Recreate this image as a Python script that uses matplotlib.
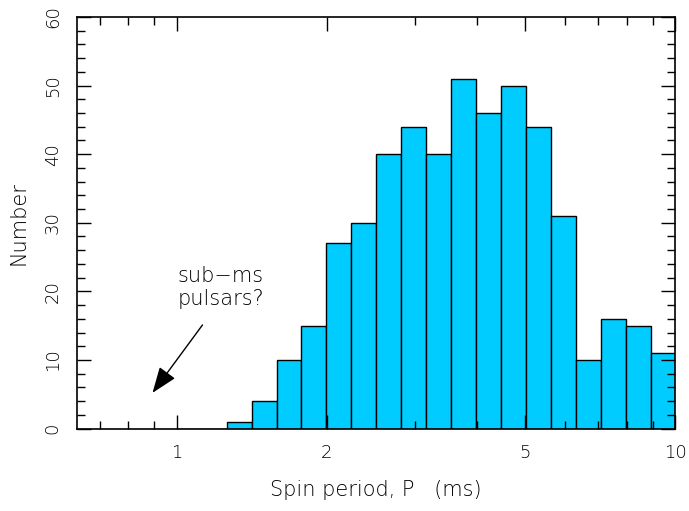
import matplotlib
matplotlib.use("Agg")
import matplotlib.pyplot as plt
import numpy as np
from matplotlib.ticker import FixedLocator, NullFormatter, FixedFormatter, MultipleLocator

# log10(P/ms) bin edges, 0.05 dex wide, from 1 ms to 10 ms
log_edges = [0.00, 0.05, 0.10, 0.15, 0.20, 0.25, 0.30, 0.35, 0.40, 0.45, 0.50,
             0.55, 0.60, 0.65, 0.70, 0.75, 0.80, 0.85, 0.90, 0.95, 1.00]
counts = [0, 0, 1, 4, 10, 15, 27, 30, 40, 44, 40, 51, 46, 50, 44, 31, 10, 16, 15, 11]

major_ticks = [1, 2, 5, 10]
major_labels = ["1", "2", "5", "10"]
minor_ticks = [0.7, 0.8, 0.9, 3, 4, 6, 7, 8, 9]

plt.rcParams['font.family'] = ['DejaVu Sans']
plt.rcParams['font.weight'] = 'light'
plt.rcParams['axes.labelweight'] = 'light'

fig = plt.figure(figsize=(6.89, 5.11), dpi=100)
ax = fig.add_axes([0.1118, 0.1614, 0.8686, 0.8053])

edges = 10 ** np.array(log_edges)
ax.bar(edges[:-1], counts, width=np.diff(edges), align='edge',
       color='#00ccff', edgecolor='black', linewidth=1.0)

ax.set_xscale('log')
ax.set_xlim(10 ** -0.2, 10)
ax.set_ylim(0, 60)

ax.xaxis.set_major_locator(FixedLocator(major_ticks))
ax.xaxis.set_major_formatter(FixedFormatter(major_labels))
ax.xaxis.set_minor_locator(FixedLocator(minor_ticks))
ax.xaxis.set_minor_formatter(NullFormatter())
ax.yaxis.set_major_locator(MultipleLocator(10))
ax.yaxis.set_minor_locator(MultipleLocator(2))

ax.tick_params(which='both', direction='in', top=True, right=True, width=1.0,
               labelsize=13, pad=11)
ax.tick_params(which='major', length=10)
ax.tick_params(which='minor', length=6)
for lab in ax.get_yticklabels():
    lab.set_rotation(90)
    lab.set_va('center')

for sp in ax.spines.values():
    sp.set_linewidth(1.2)

ax.set_xlabel('Spin period, P   (ms)', fontsize=15, labelpad=13)
ax.set_ylabel('Number', fontsize=15, labelpad=11)

ax.text(1.224, 22.2, 'sub\u2212ms', ha='center', va='center', fontsize=15)
ax.text(1.224, 18.9, 'pulsars?', ha='center', va='center', fontsize=15)
ax.annotate('', xy=(0.894, 5.2), xytext=(1.126, 15.1),
            arrowprops=dict(arrowstyle='-|>,head_length=0.8,head_width=0.3',
                            color='black', lw=1.0, mutation_scale=20,
                            shrinkA=0, shrinkB=0))

fig.savefig('out.png', dpi=100)
